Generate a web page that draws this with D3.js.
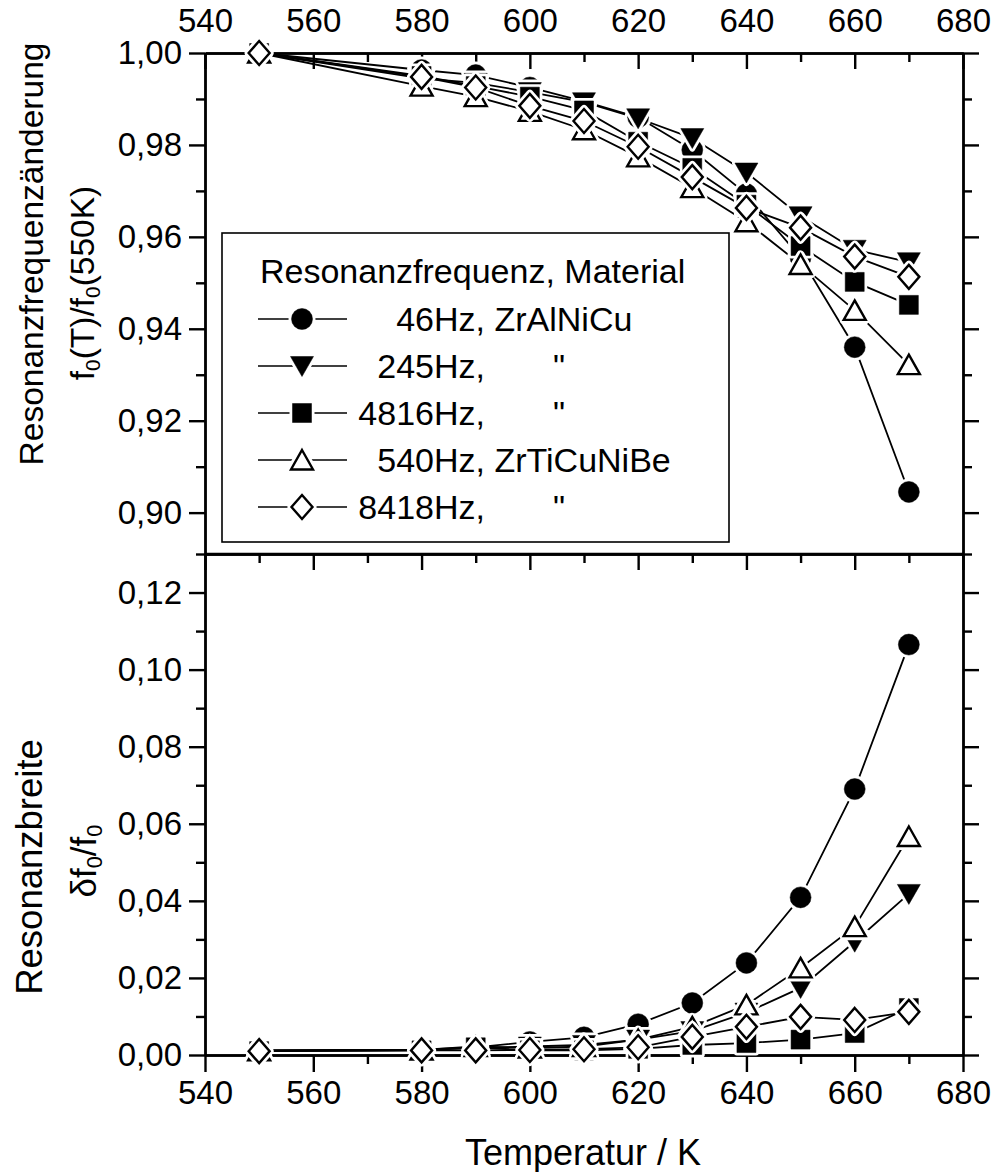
<!DOCTYPE html>
<html><head><meta charset="utf-8">
<script src="https://cdn.jsdelivr.net/npm/d3@7"></script>
<style>
html,body{margin:0;padding:0;background:#fff;}
svg text{font-family:"Liberation Sans",Arial,Helvetica,sans-serif;fill:#000;}
</style></head>
<body>
<svg id="chart" width="998" height="1172"></svg>
<script>
// ---- data ----
const temps = [550, 580, 590, 600, 610, 620, 630, 640, 650, 660, 670];
const ratio46   = [1.0000, 0.9963, 0.9952, 0.9925, 0.9895, 0.9860, 0.9789, 0.9693, 0.9555, 0.9360, 0.9045];
const ratio245  = [1.0000, 0.9945, 0.9935, 0.9915, 0.9893, 0.9858, 0.9815, 0.9740, 0.9645, 0.9572, 0.9545];
const ratio4816 = [1.0000, 0.9950, 0.9928, 0.9905, 0.9875, 0.9807, 0.9750, 0.9670, 0.9580, 0.9502, 0.9452];
const ratio540  = [1.0000, 0.9928, 0.9905, 0.9873, 0.9833, 0.9774, 0.9707, 0.9633, 0.9540, 0.9440, 0.9322];
const ratio8418 = [1.0000, 0.9948, 0.9925, 0.9885, 0.9852, 0.9796, 0.9730, 0.9663, 0.9620, 0.9557, 0.9513];
const width46   = [0.0012, 0.0014, 0.0020, 0.0034, 0.0046, 0.0080, 0.0135, 0.0239, 0.0409, 0.0690, 0.1065];
const width245  = [0.0012, 0.0014, 0.0018, 0.0022, 0.0026, 0.0040, 0.0062, 0.0110, 0.0174, 0.0294, 0.0418];
const width4816 = [0.0010, 0.0012, 0.0020, 0.0012, 0.0012, 0.0016, 0.0026, 0.0031, 0.0040, 0.0057, 0.0122];
const width540  = [0.0011, 0.0013, 0.0022, 0.0018, 0.0022, 0.0040, 0.0073, 0.0130, 0.0226, 0.0333, 0.0567];
const width8418 = [0.0010, 0.0012, 0.0012, 0.0013, 0.0015, 0.0020, 0.0047, 0.0073, 0.0099, 0.0091, 0.0112];
const seriesFreq = ["46Hz,", "245Hz,", "4816Hz,", "540Hz,", "8418Hz,"];
const seriesMaterial = [" ZrAlNiCu", "\"", "\"", " ZrTiCuNiBe", "\""];
const seriesSymbols = ["circle", "triDown", "square", "triUp", "diamond"];
const xTicks = [540, 560, 580, 600, 620, 640, 660, 680];
const xMinor = [550, 570, 590, 610, 630, 650, 670];
const topTicks = [0.90, 0.92, 0.94, 0.96, 0.98, 1.00];
const topMinor = [0.91, 0.93, 0.95, 0.97, 0.99];
const botTicks = [0.00, 0.02, 0.04, 0.06, 0.08, 0.10, 0.12];
const botMinor = [0.01, 0.03, 0.05, 0.07, 0.09, 0.11, 0.13];
const legendTitle = "Resonanzfrequenz, Material";
const xTitle = "Temperatur / K";

const ratios = [ratio46, ratio245, ratio4816, ratio540, ratio8418];
const widths = [width46, width245, width4816, width540, width8418];

// ---- layout ----
const L = 205, R = 963, T = 53, MID = 554, B = 1055;
const svg = d3.select("#chart");
const x = d3.scaleLinear().domain([540, 680]).range([L, R]);
const yTop = d3.scaleLinear().domain([0.891, 1.0]).range([MID, T]);
const yBot = d3.scaleLinear().domain([0, 0.13]).range([B, MID]);
const fmt = v => d3.format(".2f")(v).replace(".", ",");
const AX = 2.4, MAJ = 16, MIN = 9, TF = 33;

function styleAxis(g) {
  g.selectAll("path.domain").attr("stroke", "#000").attr("stroke-width", AX);
  g.selectAll(".tick line").attr("stroke", "#000").attr("stroke-width", AX);
  g.selectAll(".tick text").attr("font-size", TF).attr("font-family", "Liberation Sans, Arial, sans-serif").attr("fill", "#000");
}
function addAxis(axis, tx, ty, labels) {
  const g = svg.append("g").attr("transform", `translate(${tx},${ty})`).call(axis);
  styleAxis(g);
  if (!labels) g.selectAll(".tick text").remove();
  return g;
}

// top panel
addAxis(d3.axisLeft(yTop).tickValues(topTicks).tickSize(MAJ).tickSizeOuter(0).tickPadding(7).tickFormat(fmt), L, 0, true);
addAxis(d3.axisLeft(yTop).tickValues(topMinor).tickSize(MIN).tickSizeOuter(0), L, 0, false);
addAxis(d3.axisLeft(yTop).tickValues(topTicks).tickSize(-MAJ).tickSizeOuter(0), R, 0, false);
addAxis(d3.axisLeft(yTop).tickValues(topMinor).tickSize(-MIN).tickSizeOuter(0), R, 0, false);
addAxis(d3.axisTop(x).tickValues(xTicks).tickSize(-MAJ).tickSizeOuter(0).tickPadding(21).tickFormat(d3.format("d")), 0, T, true);
addAxis(d3.axisTop(x).tickValues(xMinor).tickSize(-MIN).tickSizeOuter(0), 0, T, false);
// bottom panel
addAxis(d3.axisLeft(yBot).tickValues(botTicks).tickSize(MAJ).tickSizeOuter(0).tickPadding(7).tickFormat(fmt), L, 0, true);
addAxis(d3.axisLeft(yBot).tickValues(botMinor).tickSize(MIN).tickSizeOuter(0), L, 0, false);
addAxis(d3.axisLeft(yBot).tickValues(botTicks).tickSize(-MAJ).tickSizeOuter(0), R, 0, false);
addAxis(d3.axisLeft(yBot).tickValues(botMinor).tickSize(-MIN).tickSizeOuter(0), R, 0, false);
addAxis(d3.axisBottom(x).tickValues(xTicks).tickSize(MAJ + 1).tickSizeOuter(0).tickPadding(9).tickFormat(d3.format("d")), 0, B, true);
addAxis(d3.axisBottom(x).tickValues(xMinor).tickSize(MIN).tickSizeOuter(0), 0, B, false);
addAxis(d3.axisTop(x).tickValues(xTicks).tickSize(-MAJ).tickSizeOuter(0), 0, MID, false);
addAxis(d3.axisTop(x).tickValues(xMinor).tickSize(-MIN).tickSizeOuter(0), 0, MID, false);

// marker shapes
function shapePath(type) {
  switch (type) {
    case "circle": return d3.symbol().type(d3.symbolCircle).size(Math.PI * 10.5 * 10.5)();
    case "square": return "M-9.5,-9.5H9.5V9.5H-9.5Z";
    case "triUp": return "M0,-10L11,9.5L-11,9.5Z";
    case "triDown": return "M0,10.5L11.5,-9.5L-11.5,-9.5Z";
    case "diamond": return "M0,-12L10.5,0L0,12L-10.5,0Z";
  }
}
const filled = {circle: true, square: true, triDown: true, triUp: false, diamond: false};
function drawMarker(g, type, cx, cy) {
  const p = shapePath(type);
  const f = filled[type];
  g.append("path").attr("d", p).attr("transform", `translate(${cx},${cy})`)
    .attr("fill", "#fff").attr("stroke", "#fff").attr("stroke-width", f ? 6 : 8).attr("stroke-linejoin", "round");
  g.append("path").attr("d", p).attr("transform", `translate(${cx},${cy})`)
    .attr("fill", f ? "#000" : "#fff").attr("stroke", "#000").attr("stroke-width", f ? 0.5 : 2.4)
    .attr("stroke-linejoin", "miter");
}

function drawPanel(dataSets, yScale) {
  const gl = svg.append("g");
  dataSets.forEach(vals => {
    const pts = temps.map((t, i) => [x(t), yScale(vals[i])]);
    gl.append("path").attr("d", d3.line()(pts)).attr("fill", "none").attr("stroke", "#000").attr("stroke-width", 1.8);
  });
  const gm = svg.append("g");
  dataSets.forEach((vals, s) => {
    temps.forEach((t, i) => drawMarker(gm, seriesSymbols[s], x(t), yScale(vals[i])));
  });
}
drawPanel(ratios, yTop);
drawPanel(widths, yBot);

// legend
const lg = svg.append("g");
lg.append("rect").attr("x", 222).attr("y", 233).attr("width", 507).attr("height", 309)
  .attr("fill", "#fff").attr("stroke", "#000").attr("stroke-width", 1.6);
lg.append("text").attr("x", 260).attr("y", 283).attr("font-size", 34).text(legendTitle);
const rowY = [319, 366, 413, 460, 507];
seriesSymbols.forEach((s, i) => {
  const yy = rowY[i];
  lg.append("line").attr("x1", 258).attr("x2", 347).attr("y1", yy).attr("y2", yy).attr("stroke", "#000").attr("stroke-width", 1.6);
  drawMarker(lg, s, 302, yy);
  lg.append("text").attr("x", 485).attr("y", yy + 12).attr("font-size", 34).attr("text-anchor", "end").text(seriesFreq[i]);
  if (seriesMaterial[i] === "\"") {
    lg.append("text").attr("x", 553).attr("y", yy + 12).attr("font-size", 34).text(seriesMaterial[i]);
  } else {
    lg.append("text").attr("x", 485).attr("y", yy + 12).attr("font-size", 34).attr("xml:space", "preserve").style("white-space", "pre").text(seriesMaterial[i]);
  }
});

// frame line between panels (drawn on top)
svg.append("line").attr("x1", L).attr("x2", R).attr("y1", MID).attr("y2", MID).attr("stroke", "#000").attr("stroke-width", AX);

// titles
svg.append("text").attr("x", 583).attr("y", 1165).attr("font-size", 36).attr("text-anchor", "middle").text(xTitle);
function yTitle(cx, cy, size, parts) {
  const t = svg.append("text").attr("transform", `translate(${cx},${cy}) rotate(-90)`)
    .attr("font-size", size).attr("text-anchor", "middle");
  parts.forEach(p => {
    const ts = t.append("tspan").text(p[0]);
    if (p[1]) ts.attr("font-size", size * 0.62).attr("baseline-shift", "-28%");
  });
}
yTitle(43, 254, 33.5, [["Resonanzfrequenzänderung"]]);
yTitle(94, 283, 33.5, [["f"], ["0", 1], ["(T)/f"], ["0", 1], ["(550K)"]]);
yTitle(42, 867, 36.5, [["Resonanzbreite"]]);
yTitle(96, 861, 35, [["δf"], ["0", 1], ["/f"], ["0", 1]]);
</script>
</body></html>
